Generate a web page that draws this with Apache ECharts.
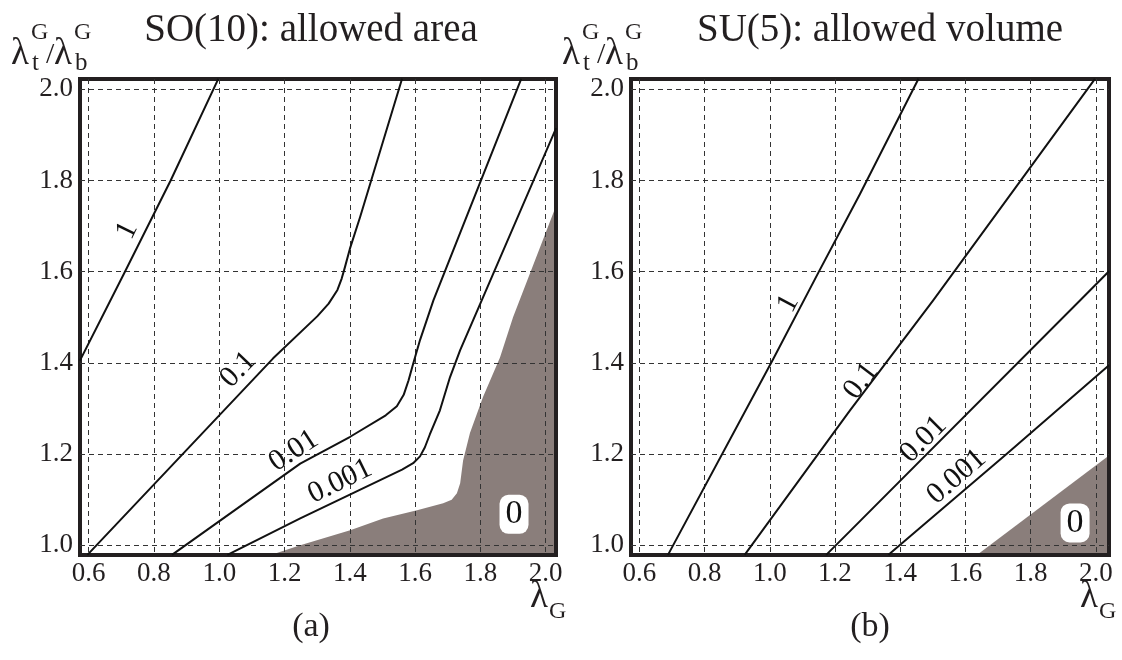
<!DOCTYPE html>
<html><head><meta charset="utf-8">
<script src="https://cdn.jsdelivr.net/npm/echarts@6/dist/echarts.min.js"></script>
<style>html,body{margin:0;padding:0;background:#fff}#c{width:1122px;height:660px}</style>
</head><body><div id="c"></div>
<script>
// ---------- tick labels ----------
const xTicks = [0.6, 0.8, 1.0, 1.2, 1.4, 1.6, 1.8, 2.0];
const yTicks = [1.0, 1.2, 1.4, 1.6, 1.8, 2.0];

// ---------- panel (a): SO(10) allowed area, contour lines [lambda_G, ratio] ----------
const so10_c1    = [[0.573,1.405],[0.711,1.600],[0.851,1.800],[0.997,2.023]];
const so10_c01   = [[0.596,0.979],[1.165,1.410],[1.300,1.502],[1.335,1.530],[1.362,1.560],[1.375,1.585],[1.385,1.610],[1.400,1.650],[1.431,1.719],[1.560,2.023]];
const so10_c001  = [[0.855,0.979],[1.248,1.179],[1.401,1.238],[1.510,1.285],[1.544,1.305],[1.565,1.330],[1.580,1.362],[1.594,1.398],[1.615,1.450],[1.656,1.537],[1.925,2.023]];
const so10_c0001 = [[1.025,0.979],[1.248,1.059],[1.560,1.166],[1.594,1.180],[1.615,1.195],[1.630,1.215],[1.645,1.243],[1.676,1.296],[1.707,1.369],[1.738,1.428],[1.804,1.537],[2.032,1.915]];
const so10_zero  = [[1.160,0.979],[1.248,1.000],[1.401,1.033],[1.502,1.059],[1.606,1.077],[1.686,1.092],[1.712,1.100],[1.728,1.114],[1.738,1.136],[1.747,1.186],[1.768,1.246],[1.808,1.325],[1.860,1.412],[1.900,1.500],[2.032,1.745]];

// ---------- panel (b): SU(5) allowed volume ----------
const su5_c1    = [[0.688,0.979],[1.011,1.409],[1.149,1.598],[1.277,1.771],[1.456,2.023]];
const su5_c01   = [[0.923,0.979],[1.246,1.296],[1.501,1.537],[1.997,2.023]];
const su5_c001  = [[1.173,0.979],[1.246,1.031],[1.951,1.537],[2.040,1.601]];
const su5_c0001 = [[1.364,0.979],[1.726,1.200],[2.040,1.395]];
const su5_zero  = [[1.636,0.979],[2.040,1.197]];

// contour level names
const levels = ['1','0.1','0.01','0.001'];

// ---------- styling / layout ----------
const SERIF = '"Liberation Serif", "DejaVu Serif", serif';
const INK = '#231f20';
const SHADE = '#8a7e7b';

const chart = echarts.init(document.getElementById('c'), null, {renderer:'canvas'});

function xAxisCfg(gi, min, max){
  return {
    type:'value', gridIndex:gi, min:min, max:max,
    axisLine:{show:false},
    axisTick:{show:false, customValues:xTicks},
    axisLabel:{customValues:xTicks, formatter:v=>v.toFixed(1), margin:5,
      fontFamily:SERIF, fontSize:27, color:INK},
    splitLine:{show:true, lineStyle:{type:[5,4], color:'#333', width:1}}
  };
}
function yAxisCfg(gi){
  return {
    type:'value', gridIndex:gi, min:0.9787, max:2.0226,
    axisLine:{show:false},
    axisTick:{show:false, customValues:yTicks},
    axisLabel:{customValues:yTicks, formatter:v=>v.toFixed(1), margin:7,
      fontFamily:SERIF, fontSize:27, color:INK},
    splitLine:{show:true, lineStyle:{type:[5,4], color:'#333', width:1}}
  };
}
function lineS(gi, data){
  return {type:'line', xAxisIndex:gi, yAxisIndex:gi, data:data, symbol:'none',
    smooth:false, z:3,
    lineStyle:{color:'#111', width:2, join:'round'}, silent:true, animation:false};
}
function shadeS(gi, data){
  return {type:'line', xAxisIndex:gi, yAxisIndex:gi, data:data, symbol:'none', z:-1,
    lineStyle:{width:0, color:SHADE}, areaStyle:{color:SHADE, opacity:1, origin:'start'},
    silent:true, animation:false};
}
function labelS(gi, items){
  return {type:'scatter', xAxisIndex:gi, yAxisIndex:gi, symbolSize:0, z:5, silent:true, animation:false,
    itemStyle:{opacity:1},
    data: items.map(it=>({value:it.at, name:it.text,
      label:Object.assign({show:true, position:'inside', formatter:'{b}', rotate:it.rot||0,
        fontFamily:SERIF, fontSize:30, color:'#111'}, it.box?{
          backgroundColor:'#fff', borderRadius:9, padding:[4,6,1,6], fontSize:34}:{})}))};
}

const so10_labels = [
  {text:levels[0], at:[0.718,1.690], rot:64},
  {text:levels[1], at:[1.058,1.385], rot:46},
  {text:levels[2], at:[1.228,1.207], rot:33},
  {text:levels[3], at:[1.370,1.140], rot:26},
  {text:'0', at:[1.903,1.068], box:true}
];
const su5_labels = [
  {text:levels[0], at:[1.057,1.530], rot:62},
  {text:levels[1], at:[1.280,1.360], rot:53},
  {text:levels[2], at:[1.471,1.232], rot:45},
  {text:levels[3], at:[1.573,1.150], rot:41},
  {text:'0', at:[1.936,1.049], box:true}
];

function txt(x,y,s,size,align,valign){
  return {type:'text', x:x, y:y, silent:true, z:10,
    style:{text:s, fontFamily:SERIF, fontSize:size, fill:INK, align:align||'left', verticalAlign:valign||'middle'}};
}
function yName(dx){
  return [
    txt(11+dx,54,'λ',37), txt(31+dx,33,'G',24), txt(32+dx,63,'t',25),
    txt(46+dx,55,'/',30),
    txt(54+dx,54,'λ',37), txt(74+dx,33,'G',24), txt(75+dx,63,'b',25)
  ];
}
function xName(x){
  return [txt(x,597,'λ',37), txt(x+19,612,'G',24)];
}

chart.setOption({
  animation:false,
  backgroundColor:'#fff',
  grid:[
    {left:80, top:79, width:476, height:476, show:true, borderColor:INK, borderWidth:4, backgroundColor:'transparent'},
    {left:631, top:79, width:478, height:476, show:true, borderColor:INK, borderWidth:4, backgroundColor:'transparent'}
  ],
  xAxis:[xAxisCfg(0,0.5733,2.0316), xAxisCfg(1,0.5746,2.0400)],
  yAxis:[yAxisCfg(0), yAxisCfg(1)],
  series:[
    shadeS(0, so10_zero),
    lineS(0, so10_c1), lineS(0, so10_c01), lineS(0, so10_c001), lineS(0, so10_c0001),
    labelS(0, so10_labels),
    shadeS(1, su5_zero),
    lineS(1, su5_c1), lineS(1, su5_c01), lineS(1, su5_c001), lineS(1, su5_c0001),
    labelS(1, su5_labels)
  ],
  graphic:[
    txt(311,31,'SO(10): allowed area',39,'center'),
    txt(880,31,'SU(5): allowed volume',39,'center'),
    txt(311,627,'(a)',34,'center'),
    txt(870,627,'(b)',34,'center'),
    ...yName(0), ...yName(551),
    ...xName(530), ...xName(1080)
  ]
});
</script></body></html>
